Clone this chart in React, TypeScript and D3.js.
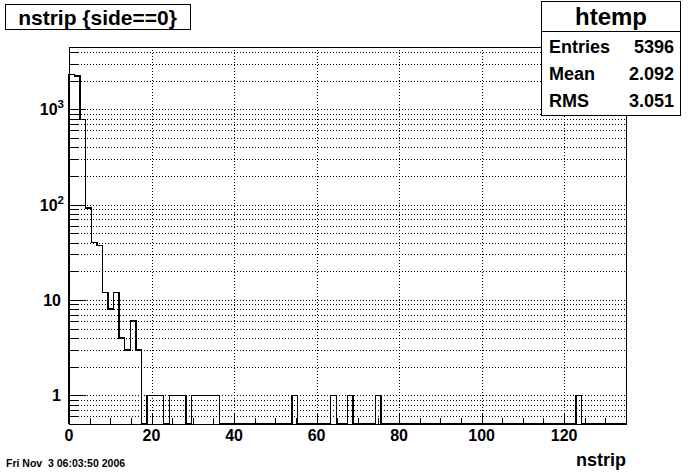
import React from 'react';
import * as d3 from 'd3';

// ---- data ----
const xMin = 0;
const xMax = 135;
const nBins = 100;
const filledBins = [0, 1, 2, 3, 4, 5, 6, 7, 8, 9, 10, 11, 12, 14, 15, 16, 18, 19, 20, 22, 23, 24, 25, 26, 40, 47, 50, 55, 91];
const filledCounts = [2320, 2230, 785, 92, 40, 37, 12, 8, 12, 4, 3, 6, 3, 1, 1, 1, 1, 1, 1, 1, 1, 1, 1, 1, 1, 1, 1, 1, 1];
const xTickValues = [0, 20, 40, 60, 80, 100, 120];
const yMajorValues = [1, 10, 100, 1000];
const yMajorLabels = [['1', ''], ['10', ''], ['10', '2'], ['10', '3']];
const yMin = 0.5;
const yMax = 4500;
const titleText = 'nstrip {side==0}';
const statsTitle = 'htemp';
const statsLabels = ['Entries', 'Mean', 'RMS'];
const statsValues = ['5396', '2.092', '3.051'];
const xAxisTitle = 'nstrip';
const dateText = 'Fri Nov  3 06:03:50 2006';

const W = 696;
const H = 472;
const L = 69, R = 626, T = 47, B = 424;
const FONT = '"Liberation Sans", Arial, Helvetica, sans-serif';

export default function App() {
  const x = d3.scaleLinear().domain([xMin, xMax]).range([L, R]);
  const y = d3.scaleLog().domain([yMin, yMax]).range([B, T]);

  const counts: number[] = new Array(nBins).fill(0);
  filledBins.forEach((b, i) => { counts[b] = filledCounts[i]; });
  const bw = (xMax - xMin) / nBins;

  const pts: [number, number][] = [[x(xMin), B]];
  counts.forEach((c, i) => {
    const yy = c > 0 ? y(c) : B;
    pts.push([x(xMin + i * bw), yy]);
    pts.push([x(xMin + (i + 1) * bw), yy]);
  });
  pts.push([x(xMax), B]);
  const histPath = d3.line()(pts) || '';

  const yMinor: number[] = [];
  [0.1, 1, 10, 100, 1000].forEach((d) => {
    for (let k = 2; k <= 9; k++) {
      const v = k * d;
      if (v > yMin && v < yMax) yMinor.push(v);
    }
  });
  const xMinor: number[] = d3.range(5, xMax + 0.001, 5).filter((v) => v % 20 !== 0);

  const yMajLen = 17, yMinLen = 8.5, xMajLen = 11, xMinLen = 5.6;

  return (
    <svg width={W} height={H} style={{ position: 'absolute', left: 0, top: 0, background: '#fff' }}
      fontFamily={FONT} fontWeight="bold">
      <rect x={0} y={0} width={W} height={H} fill="#fff" />
      <g stroke="#000" strokeWidth={1} strokeDasharray="1,2" shapeRendering="crispEdges">
        {[...yMajorValues, ...yMinor].map((v, i) => (
          <line key={'gy' + i} x1={L} x2={R} y1={Math.round(y(v)) + 0.5} y2={Math.round(y(v)) + 0.5} />
        ))}
        {xTickValues.filter((v) => v > xMin).map((v, i) => (
          <line key={'gx' + i} x1={Math.round(x(v)) + 0.5} x2={Math.round(x(v)) + 0.5} y1={T} y2={B} />
        ))}
      </g>
      <g stroke="#000" strokeWidth={1} shapeRendering="crispEdges">
        {yMajorValues.map((v, i) => (
          <line key={'ty' + i} x1={L} x2={L + yMajLen} y1={Math.round(y(v)) + 0.5} y2={Math.round(y(v)) + 0.5} />
        ))}
        {yMinor.map((v, i) => (
          <line key={'tym' + i} x1={L} x2={L + yMinLen} y1={Math.round(y(v)) + 0.5} y2={Math.round(y(v)) + 0.5} />
        ))}
        {xTickValues.map((v, i) => (
          <line key={'tx' + i} x1={Math.round(x(v)) + 0.5} x2={Math.round(x(v)) + 0.5} y1={B} y2={B - xMajLen} />
        ))}
        {xMinor.map((v, i) => (
          <line key={'txm' + i} x1={Math.round(x(v)) + 0.5} x2={Math.round(x(v)) + 0.5} y1={B} y2={B - xMinLen} />
        ))}
      </g>
      <path d={histPath} fill="none" stroke="#000" strokeWidth={1.4} shapeRendering="crispEdges" />
      <rect x={L + 0.5} y={T + 0.5} width={R - L} height={B - T} fill="none" stroke="#000" strokeWidth={1} shapeRendering="crispEdges" />
      <g fontSize={16} textAnchor="end">
        {yMajorValues.map((v, i) => (
          <text key={'yl' + i} x={yMajorLabels[i][1] ? 64 : 61} y={y(v)} dy="0.38em">
            {yMajorLabels[i][0]}
            {yMajorLabels[i][1] ? <tspan fontSize={11.5} dy={-7}>{yMajorLabels[i][1]}</tspan> : null}
          </text>
        ))}
      </g>
      <g fontSize={16} textAnchor="middle">
        {xTickValues.map((v, i) => (
          <text key={'xl' + i} x={x(v)} y={441}>{v}</text>
        ))}
      </g>
      <text x={626} y={466} fontSize={18} textAnchor="end">{xAxisTitle}</text>
      <text x={6} y={467} fontSize={10.5} style={{ whiteSpace: 'pre' }} xmlSpace="preserve">{dateText}</text>
      <rect x={5.5} y={4.5} width={185} height={25} fill="#fff" stroke="#000" strokeWidth={1} shapeRendering="crispEdges" />
      <text x={97.5} y={17} dy="0.36em" fontSize={21} textAnchor="middle">{titleText}</text>
      <rect x={541.5} y={1.5} width={139} height={114} fill="#fff" stroke="#000" strokeWidth={1} shapeRendering="crispEdges" />
      <line x1={541.5} x2={680.5} y1={31.5} y2={31.5} stroke="#000" strokeWidth={1} shapeRendering="crispEdges" />
      <text x={611} y={16} dy="0.36em" fontSize={24} textAnchor="middle">{statsTitle}</text>
      {statsLabels.map((lab, i) => (
        <g key={'st' + i} fontSize={18}>
          <text x={549} y={47 + i * 27} dy="0.36em">{lab}</text>
          <text x={674} y={47 + i * 27} dy="0.36em" textAnchor="end">{statsValues[i]}</text>
        </g>
      ))}
    </svg>
  );
}
